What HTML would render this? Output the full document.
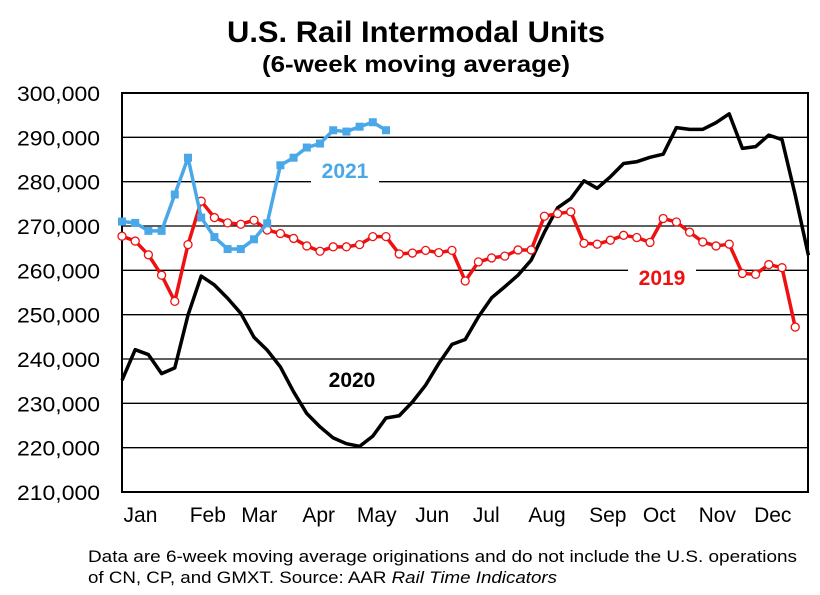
<!DOCTYPE html>
<html><head><meta charset="utf-8"><style>
body{margin:0;background:#fff;width:820px;height:590px;overflow:hidden;font-family:"Liberation Sans",Arial,sans-serif}
</style></head><body>
<svg id="chart" width="820" height="590" xmlns="http://www.w3.org/2000/svg" font-family="Liberation Sans, Arial, sans-serif">
<text x="227" y="42" font-size="30" font-weight="bold" textLength="378" lengthAdjust="spacingAndGlyphs">U.S. Rail Intermodal Units</text>
<text x="262" y="72" font-size="23" font-weight="bold" textLength="308" lengthAdjust="spacingAndGlyphs">(6-week moving average)</text>
<g id="grid"></g><g id="yt"></g><g id="xt"></g><g id="series"></g>
<text x="88" y="562" font-size="16.5" textLength="709" lengthAdjust="spacingAndGlyphs">Data are 6-week moving average originations and do not include the U.S. operations</text>
<text x="88" y="583" font-size="16.5" textLength="469" lengthAdjust="spacingAndGlyphs">of CN, CP, and GMXT.   Source: AAR <tspan font-style="italic">Rail Time Indicators</tspan></text>
</svg>
<script>
const yTicks=[210000,220000,230000,240000,250000,260000,270000,280000,290000,300000];
const months=["Jan","Feb","Mar","Apr","May","Jun","Jul","Aug","Sep","Oct","Nov","Dec"];
const monthWeek=[1.4,6.5,10.4,14.9,19.3,23.5,27.6,32.2,36.8,40.7,45.1,49.3];
const s2019=[267.7,266.6,263.5,258.9,253.0,265.8,275.6,271.9,270.7,270.4,271.3,269.1,268.3,267.2,265.5,264.3,265.3,265.3,265.8,267.6,267.6,263.7,263.9,264.5,264.0,264.5,257.6,261.9,262.8,263.2,264.6,264.6,272.2,272.8,273.2,266.1,265.9,266.8,267.9,267.4,266.3,271.7,270.9,268.6,266.4,265.5,265.9,259.3,259.1,261.3,260.6,247.2];
const s2020=[235.2,242.1,241.0,236.7,238.0,249.9,258.7,256.7,253.7,250.3,244.9,242.0,238.2,232.6,227.7,224.7,222.2,220.9,220.3,222.6,226.7,227.2,230.3,234.1,239.0,243.3,244.4,249.5,253.8,256.3,258.9,262.3,268.6,274.1,276.2,280.2,278.5,281.1,284.1,284.5,285.5,286.2,292.2,291.8,291.8,293.3,295.3,287.5,287.9,290.5,289.5,277.0,263.4];
const s2021=[271.0,270.7,268.9,268.9,277.1,285.4,271.9,267.5,264.8,264.8,267.0,270.6,283.7,285.4,287.7,288.6,291.6,291.3,292.4,293.4,291.6];
const L=122,R=808,T=93,B=492,W=13.2;
const X=i=>L+i*W;
const Y=v=>B-(v-210000)/90000*(B-T);
const NS="http://www.w3.org/2000/svg";
function mk(tag,attrs,parent){const e=document.createElementNS(NS,tag);for(const k in attrs)e.setAttribute(k,attrs[k]);parent.appendChild(e);return e;}
const grid=document.getElementById('grid'),yt=document.getElementById('yt'),xt=document.getElementById('xt'),ser=document.getElementById('series');
yTicks.forEach(v=>{
 if(v>210000&&v<300000){const g=mk('line',{x1:L,x2:R,y1:Y(v),y2:Y(v),stroke:'#000','stroke-width':1.3},grid);
 
 }
 const t=mk('text',{x:17,y:Y(v)+8,'font-size':21.5,textLength:83,lengthAdjust:'spacingAndGlyphs'},yt);t.textContent=v.toLocaleString('en-US');
 
 
});
const box=mk('rect',{x:L,y:T,width:R-L,height:B-T,fill:'none',stroke:'#000','stroke-width':2},grid);


months.forEach((m,i)=>{const t=mk('text',{x:X(monthWeek[i]),y:522,'text-anchor':'middle','font-size':21},xt);t.textContent=m;
 
 });
function pts(a){return a.map((v,i)=>X(i)+','+Y(v*1000)).join(' ');}
function label(txt,x,y,col,name){
 const r=mk('rect',{x:x-34,y:y-19,width:68,height:26,fill:'#fff'},ser);
 
 
 const t=mk('text',{x:x,y:y,'text-anchor':'middle','font-size':21,'font-weight':'bold',fill:col},ser);t.textContent=txt;
 
 
}
label('2021',345,178,'#4aa8e8','label-2021');
label('2019',662,285,'#ee1111','label-2019');
label('2020',352,387,'#000','label-2020');
const l20=mk('polyline',{points:pts(s2020),fill:'none',stroke:'#000','stroke-width':3.5,'stroke-linejoin':'round'},ser);


const l19=mk('polyline',{points:pts(s2019),fill:'none',stroke:'#ee1111','stroke-width':3.5,'stroke-linejoin':'round'},ser);


s2019.forEach((v,i)=>{const c=mk('circle',{cx:X(i),cy:Y(v*1000),r:4,fill:'#fff',stroke:'#ee1111','stroke-width':1.3},ser);
 
 });
const l21=mk('polyline',{points:pts(s2021),fill:'none',stroke:'#4aa8e8','stroke-width':3.5,'stroke-linejoin':'round'},ser);


s2021.forEach((v,i)=>{const c=mk('rect',{x:X(i)-4,y:Y(v*1000)-4,width:8,height:8,fill:'#4aa8e8'},ser);
 
 });
</script>
</body></html>
